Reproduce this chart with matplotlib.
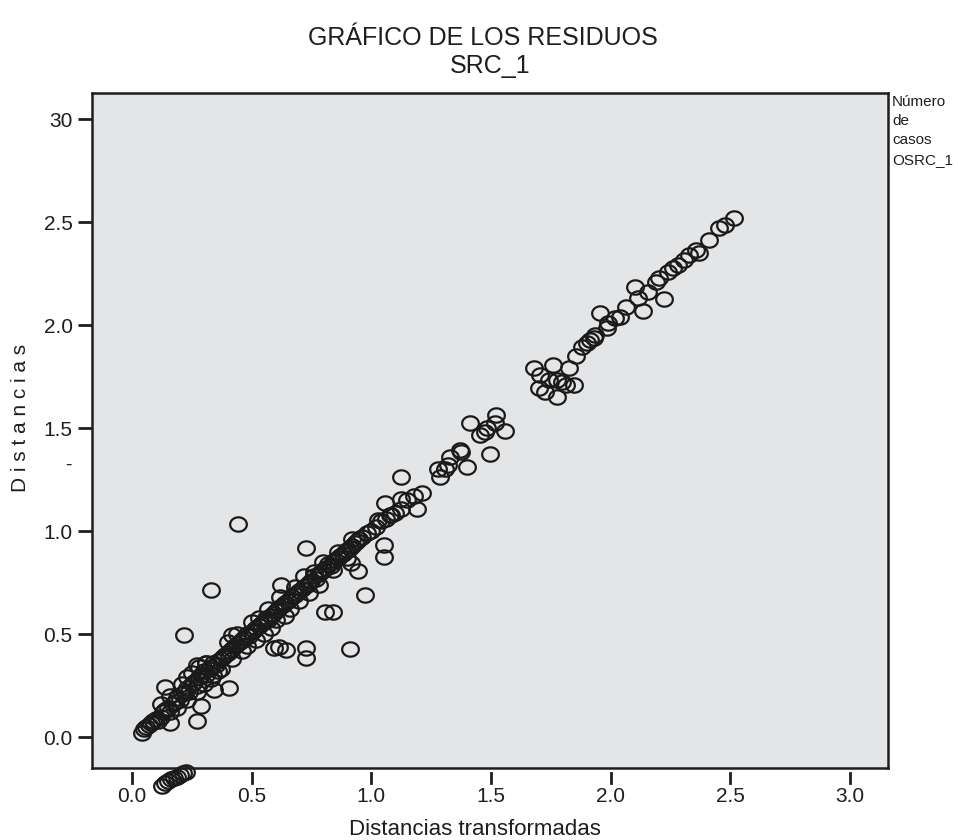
import numpy as np
import matplotlib
matplotlib.use('Agg')
import matplotlib.pyplot as plt
from matplotlib.path import Path

# main diagonal of points (distancias transformadas, distancias)
line_x = [0.04, 0.05, 0.06, 0.07, 0.08, 0.09, 0.10, 0.11, 0.12, 0.13, 0.14, 0.15,
          0.16, 0.17, 0.18, 0.19, 0.20, 0.21, 0.22, 0.23, 0.24, 0.25, 0.26, 0.27,
          0.28, 0.29, 0.30, 0.31, 0.32, 0.33, 0.34, 0.35, 0.36, 0.37, 0.38, 0.39,
          0.40, 0.41, 0.42, 0.43, 0.44, 0.45, 0.46, 0.47, 0.48, 0.49, 0.50, 0.51,
          0.52, 0.53, 0.54, 0.55, 0.56, 0.57, 0.58, 0.59, 0.60, 0.61, 0.62, 0.63,
          0.64, 0.65, 0.66, 0.67, 0.68, 0.69, 0.70, 0.71, 0.72, 0.73, 0.74, 0.75,
          0.76, 0.77, 0.78, 0.79, 0.80, 0.81, 0.82, 0.83, 0.84, 0.85, 0.86, 0.87,
          0.88, 0.89, 0.90, 0.91, 0.92, 0.93, 0.94, 0.95, 0.96, 0.98, 1.00, 1.02,
          1.04, 1.06, 1.08]
line_y = [0.02, 0.04, 0.05, 0.06, 0.07, 0.08, 0.09, 0.08, 0.10, 0.12, 0.13, 0.14,
          0.12, 0.16, 0.17, 0.19, 0.18, 0.21, 0.22, 0.24, 0.22, 0.26, 0.27, 0.25,
          0.29, 0.30, 0.32, 0.30, 0.33, 0.34, 0.36, 0.35, 0.37, 0.38, 0.39, 0.40,
          0.41, 0.42, 0.43, 0.44, 0.45, 0.46, 0.47, 0.48, 0.50, 0.49, 0.51, 0.52,
          0.53, 0.54, 0.55, 0.56, 0.58, 0.57, 0.59, 0.60, 0.61, 0.62, 0.63, 0.64,
          0.65, 0.66, 0.67, 0.68, 0.69, 0.70, 0.71, 0.72, 0.73, 0.74, 0.75, 0.76,
          0.78, 0.77, 0.79, 0.80, 0.81, 0.82, 0.84, 0.83, 0.85, 0.86, 0.87, 0.88,
          0.89, 0.90, 0.91, 0.92, 0.93, 0.94, 0.95, 0.96, 0.97, 0.99, 1.00, 1.02,
          1.05, 1.06, 1.08]

# points just off the diagonal (thick band)
band_x = [0.12, 0.16, 0.19, 0.21, 0.23, 0.25, 0.27, 0.28, 0.30, 0.31, 0.33, 0.34,
          0.36, 0.37, 0.40, 0.42, 0.44, 0.46, 0.48, 0.50, 0.52, 0.53, 0.55, 0.57,
          0.58, 0.60, 0.62, 0.64, 0.66, 0.68, 0.70, 0.72, 0.74, 0.76, 0.78, 0.80,
          0.84, 0.86, 0.90, 0.92, 0.31, 0.29, 0.23, 0.27]
band_y = [0.16, 0.20, 0.14, 0.26, 0.18, 0.31, 0.22, 0.34, 0.26, 0.36, 0.28, 0.30,
          0.32, 0.33, 0.46, 0.38, 0.50, 0.42, 0.44, 0.56, 0.47, 0.58, 0.50, 0.62,
          0.53, 0.57, 0.68, 0.59, 0.62, 0.73, 0.66, 0.78, 0.70, 0.80, 0.74, 0.85,
          0.81, 0.90, 0.87, 0.96, 0.36, 0.15, 0.29, 0.35]

# isolated residuals in the lower half
out_x = [0.137, 0.216, 0.332, 0.444, 0.270, 0.158, 0.407, 0.344, 0.593, 0.643,
         0.726, 0.726, 0.909, 0.805, 0.842, 0.975, 0.946, 0.622, 0.726, 1.054,
         1.054, 0.917, 0.420, 0.614]
out_y = [0.243, 0.495, 0.714, 1.035, 0.078, 0.068, 0.238, 0.228, 0.432, 0.422,
         0.432, 0.383, 0.427, 0.607, 0.607, 0.689, 0.806, 0.738, 0.917, 0.932,
         0.874, 0.845, 0.495, 0.437]

# middle stretch 1.0 - 1.6
mid_x = [1.03, 1.058, 1.083, 1.124, 1.124, 1.124, 1.18, 1.19, 1.21, 1.278, 1.286,
         1.307, 1.32, 1.328, 1.369, 1.373, 1.40, 1.411, 1.456, 1.473, 1.485, 1.498,
         1.515, 1.519, 1.56, 1.10, 1.15]
mid_y = [1.053, 1.136, 1.078, 1.155, 1.262, 1.107, 1.17, 1.107, 1.184, 1.30, 1.262,
         1.30, 1.32, 1.359, 1.393, 1.383, 1.31, 1.524, 1.466, 1.48, 1.50, 1.374,
         1.524, 1.563, 1.485, 1.09, 1.15]

# upper stretch 1.65 - 2.55
up_x = [1.68, 1.705, 1.70, 1.726, 1.743, 1.759, 1.776, 1.776, 1.797, 1.813, 1.826,
        1.846, 1.855, 1.88, 1.90, 1.913, 1.934, 1.954, 1.983, 1.99, 2.017, 2.066,
        2.10, 2.116, 2.137, 2.158, 2.19, 2.203, 2.224, 2.24, 2.261, 2.282, 2.307,
        2.328, 2.357, 2.37, 2.41, 2.452, 2.477, 2.515, 1.93, 2.04]
up_y = [1.79, 1.757, 1.694, 1.675, 1.733, 1.806, 1.733, 1.65, 1.723, 1.709, 1.79,
        1.709, 1.85, 1.893, 1.913, 1.927, 1.951, 2.058, 1.985, 2.01, 2.034, 2.087,
        2.184, 2.13, 2.068, 2.16, 2.21, 2.228, 2.126, 2.257, 2.277, 2.29, 2.316,
        2.34, 2.364, 2.35, 2.413, 2.47, 2.485, 2.52, 1.94, 2.04]

# values below the axis minimum (drawn past the frame)
low_x = [0.124, 0.137, 0.149, 0.162, 0.174, 0.187, 0.199, 0.212, 0.224]
low_y = [-0.238, -0.223, -0.214, -0.204, -0.199, -0.194, -0.184, -0.175, -0.170]

x_ticks = [0.0, 0.5, 1.0, 1.5, 2.0, 2.5, 3.0]
x_labels = ['0.0', '0.5', '1.0', '1.5', '2.0', '2.5', '3.0']
y_ticks = [0.0, 0.5, 1.0, 1.5, 2.0, 2.5, 3.0]
y_labels = ['0.0', '0.5', '1.0', '1.5', '2.0', '2.5', '30']

plt.rcParams['font.family'] = ['Liberation Sans', 'DejaVu Sans']

fig = plt.figure(figsize=(9.58, 8.4), dpi=100)
ax = fig.add_axes([0.096, 0.0857, 0.831, 0.8033])
ax.set_facecolor('#e4e5e7')

# slightly flattened circle, like the SPSS marker
t = np.linspace(0, 2 * np.pi, 60)
ell = Path(np.column_stack([np.cos(t), 0.86 * np.sin(t)]), closed=True)

all_x = line_x + band_x + out_x + mid_x + up_x
all_y = line_y + band_y + out_y + mid_y + up_y
ax.plot(all_x, all_y, linestyle='none', marker=ell, ms=12, mfc='none',
        mec='#1a1a1a', mew=1.6)
ax.plot(low_x, low_y, linestyle='none', marker=ell, ms=12, mfc='none',
        mec='#1a1a1a', mew=1.6, clip_on=False)

ax.set_xlim(-0.167, 3.159)
ax.set_ylim(-0.15, 3.126)

for s in ax.spines.values():
    s.set_linewidth(1.8)
    s.set_color('#1e1e1e')

ax.set_yticks(y_ticks)
ax.set_yticklabels(y_labels)
ax.tick_params(axis='y', direction='out', length=10, width=2, pad=4,
               labelsize=15, colors='#1e1e1e')

# x ticks sit a little below the frame
ax.set_xticks(x_ticks)
ax.set_xticklabels(x_labels)
ax.tick_params(axis='x', length=0, pad=14, labelsize=15, colors='#1e1e1e')
for xt in x_ticks:
    ax.plot([xt, xt], [-0.007, -0.022], color='#1e1e1e', lw=2,
            transform=ax.get_xaxis_transform(), clip_on=False)

fig.text(0.504, 0.955, 'GRÁFICO DE LOS RESIDUOS', ha='center', va='center',
         fontsize=18, color='#1e1e1e')
fig.text(0.512, 0.921, 'SRC_1', ha='center', va='center', fontsize=18,
         color='#1e1e1e')
fig.text(0.496, 0.006, 'Distancias transformadas', ha='center', va='baseline',
         fontsize=16, color='#1e1e1e')
fig.text(0.021, 0.502, 'D i s t a n c i a s', rotation=90, ha='center',
         va='center', fontsize=15, color='#1e1e1e')
fig.text(0.071, 0.446, '-', ha='center', va='center', fontsize=14,
         color='#1e1e1e')
fig.text(0.931, 0.8875, 'Número\nde\ncasos\nOSRC_1', ha='left', va='top',
         fontsize=11, linespacing=1.5, color='#1e1e1e')

fig.savefig('out.png', dpi=100)
